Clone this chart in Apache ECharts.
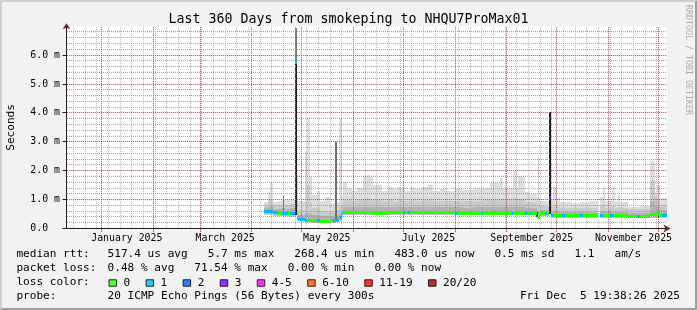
<!DOCTYPE html>
<html><head><meta charset="utf-8">
<script src="https://cdn.jsdelivr.net/npm/echarts@6.0.0/dist/echarts.min.js"></script>
<style>html,body{margin:0;padding:0;background:#f2f2f2}#c{width:697px;height:310px}</style>
</head><body><div id="c"></div>
<script>
const FONT = 'DejaVu Sans Mono';
const startTime = Date.UTC(2024, 11, 10, 19, 38, 26);
const endTime = Date.UTC(2025, 11, 5, 19, 38, 26);

// ---- smoke bins (values in ms) ----
const binStart = ['2025-04-08 12','2025-04-11','2025-04-12','2025-04-14','2025-04-17','2025-04-19','2025-04-21','2025-04-23','2025-04-24','2025-04-26 18',
 '2025-04-28 04','2025-04-29','2025-05-02 18','2025-05-04','2025-05-06','2025-05-07','2025-05-10','2025-05-12','2025-05-15','2025-05-18',
 '2025-05-20','2025-05-21','2025-05-23 14','2025-05-25 05','2025-05-26','2025-05-28','2025-05-31','2025-06-03','2025-06-07','2025-06-09',
 '2025-06-11','2025-06-13','2025-06-18','2025-06-22','2025-06-25','2025-06-28','2025-07-01','2025-07-02','2025-07-04','2025-07-05',
 '2025-07-08','2025-07-12','2025-07-16','2025-07-19','2025-07-23','2025-07-27','2025-08-01','2025-08-02','2025-08-06','2025-08-12',
 '2025-08-17','2025-08-18','2025-08-22','2025-08-28','2025-08-30','2025-09-04','2025-09-05','2025-09-07','2025-09-08','2025-09-12',
 '2025-09-13','2025-09-15','2025-09-16','2025-09-19','2025-09-21','2025-09-24','2025-09-25','2025-09-26 14','2025-09-27 14','2025-09-28 12',
 '2025-10-01','2025-10-03','2025-10-04','2025-10-06','2025-10-10','2025-10-15','2025-10-17','2025-10-21','2025-10-26','2025-10-27',
 '2025-10-29','2025-10-30','2025-11-02','2025-11-03','2025-11-04','2025-11-05','2025-11-07','2025-11-08','2025-11-13','2025-11-18',
 '2025-11-20','2025-11-26','2025-11-29','2025-11-30','2025-12-02','2025-12-03'];
const binLow = [.46,.45,.45,.42,.42,.42,.42,.42,.40,.45,
 .30,.25,.22,.22,.22,.20,.20,.20,.20,.20,
 .20,.22,.25,.35,.45,.45,.45,.45,.45,.45,
 .45,.45,.45,.45,.45,.45,.45,.45,.45,.45,
 .45,.45,.45,.45,.45,.45,.45,.45,.45,.45,
 .45,.45,.45,.45,.45,.45,.45,.45,.45,.45,
 .45,.45,.45,.36,.42,.42,.42,.50,.36,.37,
 .37,.38,.38,.38,.38,.38,.38,.38,null,.38,
 .38,.38,.38,.38,.38,.38,.38,.38,.37,.37,
 .37,.38,.38,.38,.38,.38];
const binMedian = [.62,.60,.60,.56,.55,.55,.54,.54,.52,5.76,
 .38,.33,.30,.29,.28,.28,.28,.27,.27,.28,
 .28,.30,.40,.52,.56,.56,.56,.56,.56,.56,
 .56,.55,.55,.56,.56,.56,.56,.56,.56,.56,
 .56,.56,.56,.56,.56,.56,.55,.55,.55,.55,
 .55,.55,.55,.55,.55,.55,.55,.55,.55,.55,
 .55,.55,.55,.40,.52,.52,.52,1.09,.45,.46,
 .46,.46,.46,.46,.46,.46,.46,.46,null,.47,
 .47,.46,.46,.46,.46,.46,.46,.46,.44,.44,
 .44,.50,.50,.55,.47,.47];
const binDark = [.72,.75,.78,.68,.68,.70,.68,.68,.70,5.76,
 .55,.45,.50,.55,.50,.45,.45,.42,.42,.42,
 .42,.45,.55,.65,.75,.74,.73,.74,.76,.76,
 .75,.74,.73,.74,.73,.74,.74,.73,.73,.74,
 .73,.74,.75,.73,.74,.73,.73,.73,.72,.73,
 .74,.74,.75,.76,.74,.74,.76,.74,.76,.72,
 .72,.72,.72,.60,.65,.65,.65,1.09,.58,.60,
 .58,.56,.56,.56,.56,.56,.56,.56,null,.60,
 .62,.56,.56,.58,.58,.56,.57,.56,.54,.54,
 .54,.95,.80,.75,.65,.65];
const binMid = [.82,.95,1.00,.80,.82,.85,.82,.82,.85,5.76,
 .90,.65,.90,1.50,.90,.70,.72,.62,.62,.62,
 .62,.65,.80,.85,1.00,.97,.95,.98,1.02,1.05,
 1.00,.98,.95,.98,.96,.97,.96,.95,.95,.97,
 .95,.97,.99,.95,.96,.95,.96,.96,.95,.96,
 .97,.97,1.00,1.02,.97,.97,1.05,.98,1.03,.92,
 .92,.92,.92,.80,.78,.78,.78,1.09,.75,.80,
 .75,.70,.70,.70,.70,.70,.70,.70,null,.80,
 .85,.72,.72,.78,.78,.72,.75,.72,.66,.66,
 .66,1.67,1.10,1.00,.80,.80];
const binHigh = [.93,1.25,1.56,.92,.95,.97,.98,.98,1.00,5.76,
 1.84,.95,2.65,3.85,1.78,1.15,1.30,.95,1.10,.85,
 .88,.90,3.83,1.10,1.61,1.38,1.30,1.40,1.80,1.86,
 1.78,1.50,1.30,1.45,1.35,1.42,1.42,1.30,1.30,1.40,
 1.35,1.42,1.50,1.30,1.36,1.30,1.38,1.38,1.33,1.38,
 1.40,1.40,1.58,1.74,1.40,1.40,2.00,1.40,1.80,1.25,
 1.25,1.22,1.20,1.10,.95,.95,.95,1.09,1.00,1.44,
 1.05,.90,.90,.92,.88,.92,.90,.94,null,1.09,
 1.43,.95,.95,1.44,1.44,.95,1.15,.92,.76,.76,
 .78,2.33,1.22,1.50,1.05,1.05];
const binLoss = [1,1,1,1,0,1,1,0,1,1,
 1,1,1,0,0,0,1,0,0,0,
 1,1,1,1,0,0,0,0,0,0,
 0,0,0,0,0,0,1,0,1,0,
 0,0,0,0,0,0,1,0,0,0,
 1,0,0,0,0,1,0,0,0,1,
 0,1,0,0,0,1,0,3,1,0,
 0,0,1,0,0,1,0,0,null,1,
 0,0,1,1,0,0,0,0,0,1,
 0,0,0,0,0,1];

// ---- narrow spikes drawn over the smoke ----
const spikeFrom = ['2025-04-26 18','2025-04-26 18','2025-04-19 12','2025-05-21 05','2025-09-26 14','2025-09-19 14','2025-09-18 12','2025-11-30 12'];
const spikeTo = ['2025-04-28 04','2025-04-28 04','2025-04-20 06','2025-05-22 05','2025-09-27 14','2025-09-20 10','2025-09-19 12','2025-12-01 06'];
const spikeBottom = [0.45, 5.76, 0.55, 0.30, 0.50, 0.80, 0.40, 0.38];
const spikeTop = [5.76, 6.95, 1.13, 3.00, 4.03, 2.50, 0.58, 0.46];
const spikeShade = ['#1e1e1e','#7a7a7a','#6e6e6e','#6e6e6e','#1e1e1e','#cdcdcd','#333333','#333333'];

const lossLabels = ['0','1','2','3','4-5','6-10','11-19','20/20'];
const lossColors = ['#26ff00','#00b8ff','#0059ff','#7e00ff','#ff00ff','#ff5500','#ff0000','#a10000'];
const monthLabelTexts = ['January 2025','March 2025','May 2025','July 2025','September 2025','November 2025'];
const monthLabelMonths = [0, 2, 4, 6, 8, 10];

const legendLines = [
  ['median rtt:', '517.4 us avg   5.7 ms max   268.4 us min   483.0 us now   0.5 ms sd   1.1   am/s'],
  ['packet loss:', '0.48 % avg   71.54 % max   0.00 % min   0.00 % now'],
  ['loss color:', ''],
  ['probe:', '20 ICMP Echo Pings (56 Bytes) every 300s']
];
const stampText = 'Fri Dec  5 19:38:26 2025';
const titleText = 'Last 360 Days from smokeping to NHQU7ProMax01';

function ts(s) {
  const parts = s.split(' ');
  const d = parts[0].split('-').map(Number);
  return Date.UTC(d[0], d[1] - 1, d[2], parts[1] ? Number(parts[1]) : 0);
}

const smokeData = [];
for (let i = 0; i < binStart.length; i++) {
  if (binLow[i] === null) continue;
  const t0 = ts(binStart[i]);
  const t1 = i + 1 < binStart.length ? ts(binStart[i + 1]) : endTime;
  smokeData.push([t0, t1, binLow[i], binMedian[i], binDark[i], binMid[i], binHigh[i], binLoss[i]]);
}
const spikeData = spikeFrom.map((s, i) => [ts(s), ts(spikeTo[i]), spikeBottom[i], spikeTop[i], i]);

const vGridData = [];
for (let t = Date.UTC(2024, 11, 15); t < endTime; t += 7 * 86400000) vGridData.push([t, 0]);
for (let m = 0; m < 12; m++) vGridData.push([Date.UTC(2025, m, 1), 1]);
const hGridData = [];
for (let i = 0; i < 35; i++) {
  const v = +(i * 0.2).toFixed(1);
  hGridData.push([startTime, v, i % 5 === 0 ? 1 : 0]);
}
const xLabelData = monthLabelMonths.map(m => [Date.UTC(2025, m, 16), 0]);

const V_MINOR = 'rgba(143,143,143,0.6)';
const H_MINOR = 'rgba(143,143,143,0.8)';
const MAJOR = 'rgba(222,79,79,0.9)';
const MAJOR_UNDER = 'rgba(222,79,79,0.22)';
const SHADES = ['#c2c2c2', '#b2b2b2', '#cbcbcb', '#dedede'];

function colX(api) {
  const x0 = Math.round(api.coord([api.value(0), 0])[0]);
  let x1 = Math.round(api.coord([api.value(1), 0])[0]);
  if (x1 <= x0) x1 = x0 + 1;
  return [x0, x1];
}
function renderSmoke(params, api) {
  const [x0, x1] = colX(api);
  const Y = v => Math.round(api.coord([api.value(0), v])[1]);
  const lv = [api.value(2), api.value(3), api.value(4), api.value(5), api.value(6)];
  const children = [];
  for (let k = 0; k < 4; k++) {
    if (lv[k + 1] > lv[k]) {
      const yt = Y(lv[k + 1]), yb = Y(lv[k]);
      children.push({ type: 'rect', shape: { x: x0, y: yt, width: x1 - x0, height: Math.max(1, yb - yt) }, style: { fill: SHADES[k] } });
    }
  }
  return { type: 'group', children };
}
function renderSpike(params, api) {
  const [x0, x1] = colX(api);
  const yt = Math.round(api.coord([api.value(0), api.value(3)])[1]);
  const yb = Math.round(api.coord([api.value(0), api.value(2)])[1]);
  return { type: 'rect', shape: { x: x0, y: yt, width: x1 - x0, height: yb - yt }, style: { fill: spikeShade[api.value(4)] } };
}
function renderMedian(params, api) {
  const [x0, x1] = colX(api);
  const y = Math.round(api.coord([api.value(0), api.value(3)])[1]);
  return { type: 'rect', shape: { x: x0, y: y - 1, width: x1 - x0, height: 3 }, style: { fill: lossColors[api.value(7)] } };
}
function renderVGrid(params, api) {
  const cs = params.coordSys;
  const x = Math.floor(api.coord([api.value(0), 0])[0]) + 0.5;
  const kind = api.value(1);
  const top = Math.ceil(cs.y), bottom = Math.round(cs.y + cs.height);
  const children = [];
  if (kind) children.push({ type: 'line', shape: { x1: x, y1: top, x2: x, y2: bottom }, style: { stroke: MAJOR_UNDER, lineWidth: 1 } });
  children.push({ type: 'line', shape: { x1: x, y1: top, x2: x, y2: bottom }, style: { stroke: kind ? MAJOR : V_MINOR, lineWidth: 1, lineDash: [1, 1] } });
  if (kind) children.push({ type: 'line', shape: { x1: x, y1: bottom, x2: x, y2: bottom + 3 }, style: { stroke: MAJOR, lineWidth: 1 } });
  return { type: 'group', children };
}
function renderHGrid(params, api) {
  const cs = params.coordSys;
  const v = api.value(1), kind = api.value(2);
  const y = Math.floor(api.coord([startTime, v])[1]) + 0.5;
  const left = Math.ceil(cs.x), right = Math.round(cs.x + cs.width);
  const children = [];
  if (v > 0) {
    if (kind) children.push({ type: 'line', shape: { x1: left, y1: y, x2: right, y2: y }, style: { stroke: MAJOR_UNDER, lineWidth: 1 } });
    children.push({ type: 'line', shape: { x1: left, y1: y, x2: right, y2: y }, style: { stroke: kind ? MAJOR : H_MINOR, lineWidth: 1, lineDash: [1, 1] } });
  }
  if (kind) children.push({ type: 'line', shape: { x1: left - 4.5, y1: y, x2: left, y2: y }, style: { stroke: '#1f1f1f', lineWidth: 1 } });
  return { type: 'group', children };
}
function renderXLabel(params, api) {
  const p = api.coord([api.value(0), 0]);
  return { type: 'text', x: p[0], y: p[1] + 9.5, style: { text: monthLabelTexts[params.dataIndex], fontSize: 9.85, fontFamily: FONT, fill: '#000', align: 'center', verticalAlign: 'middle' } };
}

const graphics = [
  { type: 'polygon', shape: { points: [[0,0],[697,0],[695,2],[2,2]] }, style: { fill: '#cfcfcf' } },
  { type: 'polygon', shape: { points: [[0,0],[2,2],[2,308],[0,310]] }, style: { fill: '#cfcfcf' } },
  { type: 'polygon', shape: { points: [[0,310],[2,308],[695,308],[697,310]] }, style: { fill: '#9e9e9e' } },
  { type: 'polygon', shape: { points: [[697,0],[697,310],[695,308],[695,2]] }, style: { fill: '#9e9e9e' } },
  { type: 'text', x: 348.5, y: 19.5, style: { text: titleText, fontSize: 13.3, fontFamily: FONT, fill: '#000', align: 'center', verticalAlign: 'middle' } },
  { type: 'text', x: 11, y: 127.4, rotation: Math.PI / 2, style: { text: 'Seconds', fontSize: 11.08, fontFamily: FONT, fill: '#000', align: 'center', verticalAlign: 'middle' } },
  { type: 'text', x: 688.5, y: 5, rotation: -Math.PI / 2, style: { text: 'RRDTOOL / TOBI OETIKER', fontSize: 8.3, fontFamily: FONT, fill: '#ababab', align: 'left', verticalAlign: 'middle' } },
  { type: 'text', x: 680, y: 296, style: { text: stampText, fontSize: 11.08, fontFamily: FONT, fill: '#000', align: 'right', verticalAlign: 'middle' } }
];
const rowY = [254, 268, 282, 296];
legendLines.forEach((l, i) => {
  graphics.push({ type: 'text', x: 16.4, y: rowY[i], style: { text: l[0], fontSize: 11.08, fontFamily: FONT, fill: '#000', align: 'left', verticalAlign: 'middle' } });
  if (l[1]) graphics.push({ type: 'text', x: 107.6, y: rowY[i], style: { text: l[1], fontSize: 11.08, fontFamily: FONT, fill: '#000', align: 'left', verticalAlign: 'middle' } });
});

const chart = echarts.init(document.getElementById('c'), null, { renderer: 'canvas', devicePixelRatio: 1 });
const baseX = { type: 'time', position: 'bottom', min: startTime, max: endTime, axisLabel: { show: false }, axisTick: { show: false }, splitLine: { show: false } };
const baseY = { type: 'value', position: 'left', min: 0, max: 7, interval: 1, splitLine: { show: false }, axisTick: { show: false } };
chart.setOption({
  animation: false,
  backgroundColor: '#f2f2f2',
  textStyle: { fontFamily: FONT },
  grid: { left: 66.5, right: 30.5, top: 26.2, bottom: 81.5, show: true, backgroundColor: '#ffffff', borderWidth: 0 },
  xAxis: [
    Object.assign({}, baseX, { axisLine: { show: true, lineStyle: { color: '#801f1f', width: 1 }, symbol: ['none', 'arrow'], symbolSize: [6, 7], symbolOffset: [0, 4] } }),
    Object.assign({}, baseX, { z: 3, axisLine: { show: true, lineStyle: { color: '#1f1f1f', width: 1 } } })
  ],
  yAxis: [
    Object.assign({}, baseY, {
      axisLine: { show: true, lineStyle: { color: '#801f1f', width: 1 }, symbol: ['none', 'arrow'], symbolSize: [6, 6], symbolOffset: [0, 3] },
      axisLabel: { show: true, margin: 6.5, fontSize: 9.9, fontFamily: FONT, color: '#000', showMaxLabel: false,
        formatter: v => v === 0 ? '0.0  ' : v.toFixed(1) + ' m' }
    }),
    Object.assign({}, baseY, { z: 3, axisLabel: { show: false }, axisLine: { show: true, lineStyle: { color: '#1f1f1f', width: 1 } } })
  ],
  legend: {
    data: lossLabels, left: 108.5, top: 276, padding: 0, orient: 'horizontal', icon: 'rect',
    itemWidth: 7.5, itemHeight: 6.5, itemGap: 15.4, selectedMode: false,
    itemStyle: { borderColor: '#000', borderWidth: 1 },
    textStyle: { fontSize: 11.08, fontFamily: FONT, color: '#000', lineHeight: 14, padding: [0, 0, 0, 2] }
  },
  graphic: { elements: graphics },
  series: [
    { type: 'custom', name: 'smoke', renderItem: renderSmoke, data: smokeData, encode: { x: [0, 1], y: [2, 6] }, z: 2, silent: true },
    { type: 'custom', name: 'spikes', renderItem: renderSpike, data: spikeData, encode: { x: [0, 1], y: [2, 3] }, z: 3, silent: true },
    { type: 'custom', name: 'vgrid', renderItem: renderVGrid, data: vGridData, encode: { x: 0, y: 1 }, z: 4, silent: true },
    { type: 'custom', name: 'hgrid', renderItem: renderHGrid, data: hGridData, encode: { x: 0, y: 1 }, z: 4, silent: true },
    { type: 'custom', name: 'median', renderItem: renderMedian, data: smokeData, encode: { x: [0, 1], y: 3 }, z: 5, silent: true },
    { type: 'custom', name: 'xlabels', renderItem: renderXLabel, data: xLabelData, encode: { x: 0, y: 1 }, z: 5, silent: true }
  ].concat(lossLabels.map((n, i) => ({ type: 'scatter', name: n, data: [], itemStyle: { color: lossColors[i] } })))
});
</script></body></html>
